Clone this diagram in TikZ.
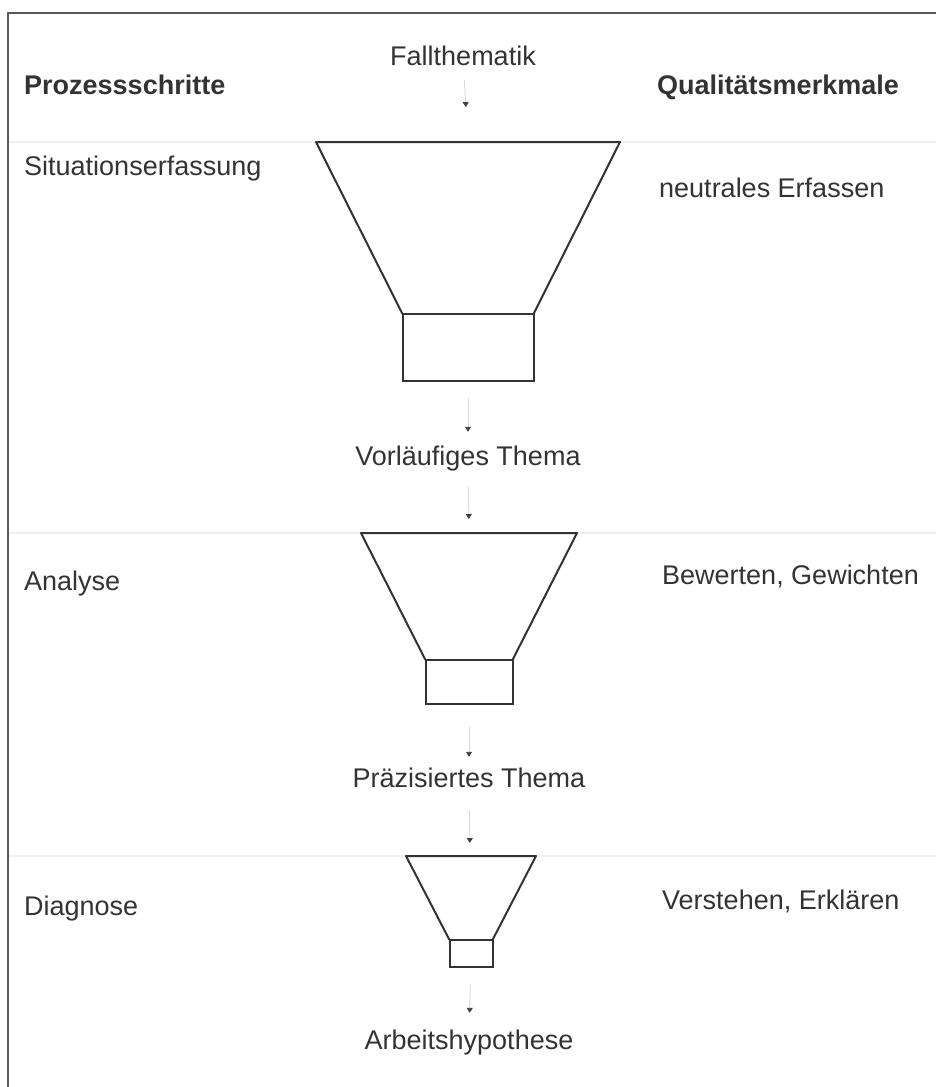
\documentclass[tikz,border=0pt]{standalone}
\usepackage{fontspec}
\setmainfont{Liberation Sans}
\usepackage{tikz}
\usetikzlibrary{arrows.meta, positioning}

\tikzset{
  lbl/.style={text=black!80, font=\fontsize{27}{32}\selectfont, inner sep=0pt, text height=20pt, text depth=6pt},
  head/.style={lbl, font=\fontsize{27}{32}\selectfont\bfseries},
  funnel/.style={draw=black!80, line width=2pt, line join=round},
  neck/.style={rectangle, draw=black!80, line width=2pt, inner sep=0pt, outer sep=0pt},
  flow/.style={draw=black!15, line width=0.9pt, -{Triangle[length=5pt, width=6pt, color=black!75]}, shorten <=17pt, shorten >=13pt},
  sep/.style={draw=black!6, line width=1.5pt}
}

\begin{document}
\begin{tikzpicture}[x=1pt, y=-1pt]
  \useasboundingbox (0,0) rectangle (936,1087);
  % faint row lines
  \draw[sep] (8,142) -- (936,142);
  \draw[sep] (8,533) -- (936,533);
  \draw[sep] (8,856) -- (936,856);
  % frame (cut at right and bottom)
  \draw[black!65, line width=2.2pt] (8,1087) -- (8,13) -- (936,13);
  % column heads
  \node (proz) [head, anchor=west] at (24,87) {Prozessschritte};%left head
  \node (qual) [head, anchor=west] at (657,87) {Qualitätsmerkmale};%right head
  % =============== funnels ====================
  \node (fall) [lbl] at (463,58) {Fallthematik};%input
  \coordinate (T1) at (468,142);%top of first funnel
  \node (N1) [neck, minimum width=131pt, minimum height=67pt, anchor=north] at (468,314) {};%first neck
  \draw[funnel] (N1.north west) -- ++(-86.5,-172) -- ++(304,0) -- (N1.north east);%first funnel
  \node (vor) [lbl] at (468,458) {Vorläufiges Thema};
  \coordinate (T2) at (469,533);%top of second funnel
  \node (N2) [neck, minimum width=87pt, minimum height=44pt, anchor=north] at (469,660) {};%second neck
  \draw[funnel] (N2.north west) -- ++(-64.5,-127) -- ++(216,0) -- (N2.north east);%second funnel
  \node (prae) [lbl] at (469,780) {Präzisiertes Thema};
  \coordinate (T3) at (470,856);%top of third funnel
  \node (N3) [neck, minimum width=43pt, minimum height=27pt, anchor=north] at (471,940) {};%third neck
  \draw[funnel] (N3.north west) -- ++(-43.5,-84) -- ++(130,0) -- (N3.north east);%third funnel
  \node (arb) [lbl] at (469,1042) {Arbeitshypothese};
  % arrows
  \draw[flow, shorten <=9pt, shorten >=35pt] (fall) -- (T1);
  \draw[flow] (N1) -- (vor);
  \draw[flow, shorten <=16pt, shorten >=14pt] (vor) -- (T2);
  \draw[flow, shorten <=23pt, shorten >=10pt] (N2) -- (prae);
  \draw[flow] (prae) -- (T3);
  \draw[flow, shorten >=16pt] (N3) -- (arb);
  % =============== row labels ====================
  \node (sit) [lbl, anchor=west] at (24,168) {Situationserfassung};
  \node (ana) [lbl, anchor=west] at (24,583) {Analyse};
  \node (dia) [lbl, anchor=west] at (24,908) {Diagnose};
  \node (neu) [lbl, anchor=west] at (659,190) {neutrales Erfassen};
  \node (bew) [lbl, anchor=west] at (662,577) {Bewerten, Gewichten};
  \node (ver) [lbl, anchor=west] at (662,902) {Verstehen, Erklären};
\end{tikzpicture}
\end{document}
